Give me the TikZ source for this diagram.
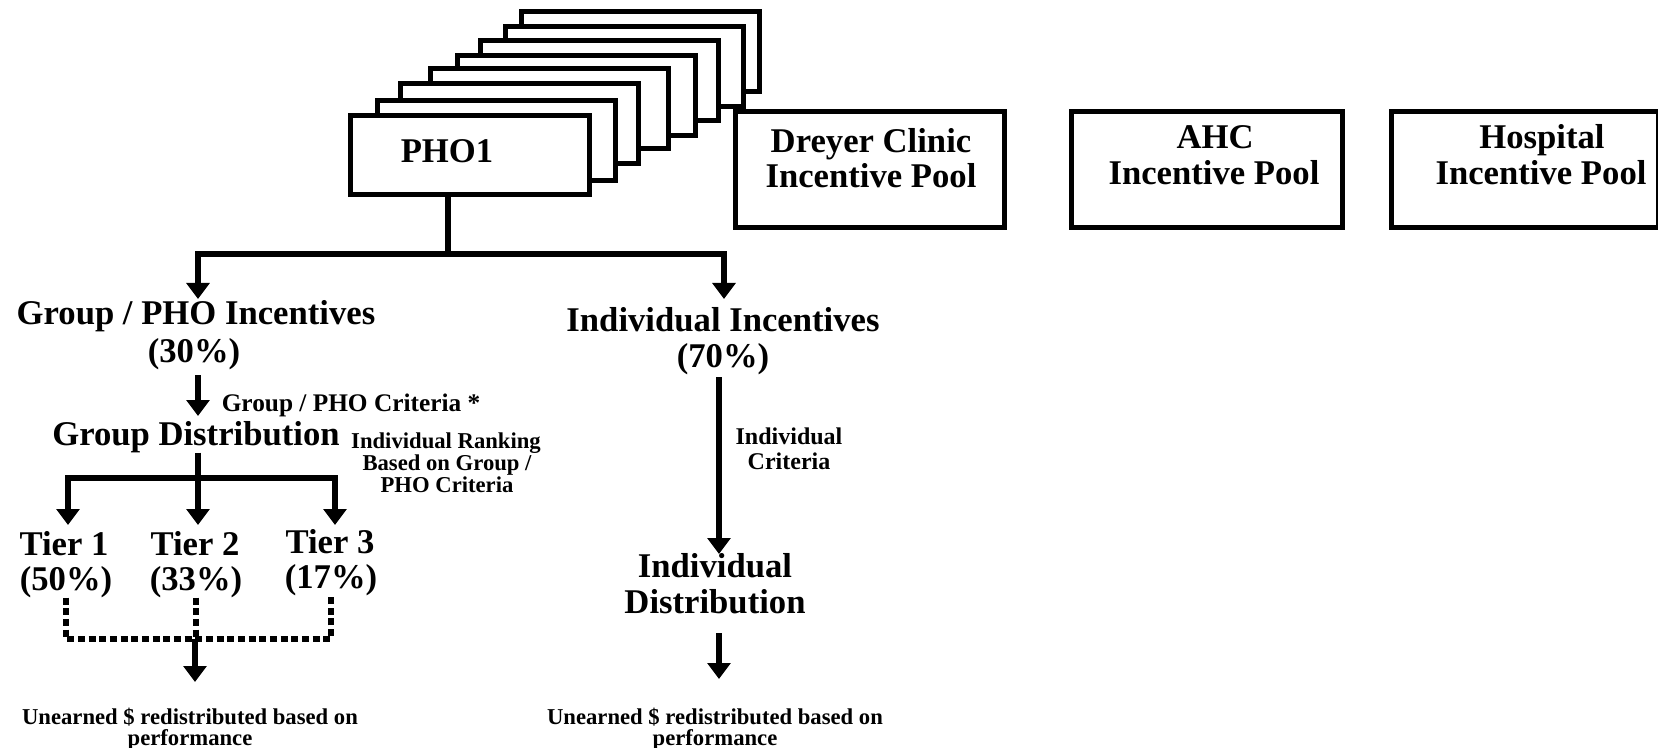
\documentclass[tikz,border=0pt]{standalone}
\usepackage{fontspec}
\setmainfont{Liberation Serif}
\usetikzlibrary{arrows.meta,calc}
\begin{document}
\begin{tikzpicture}[x=0.75pt,y=-0.75pt,
 box/.style={draw,fill=white,line width=3.4pt,minimum width=178.5pt,minimum height=60pt,anchor=north west,inner sep=0pt},
 big/.style={font=\fontsize{26}{30}\selectfont\bfseries,anchor=base,inner sep=0pt},
 mid/.style={font=\fontsize{19}{22}\selectfont\bfseries,anchor=base,inner sep=0pt},
 midb/.style={font=\fontsize{18}{22}\selectfont\bfseries,anchor=base,inner sep=0pt},
 sml/.style={font=\fontsize{17}{20}\selectfont\bfseries,anchor=base,inner sep=0pt},
 conn/.style={line width=4.7pt},
 arr/.style={conn,-{Triangle[width=17pt,length=12pt]}},
 dots/.style={line width=4.4pt,dash pattern=on 5.2pt off 2.8pt}
]
\useasboundingbox (0,0) rectangle (1658,748);
% stacked PHO boxes
\node[box] (s8) at (519,9) {};
\node[box] (s7) at (503,24) {};
\node[box] (s6) at (478,38) {};
\node[box] (s5) at (455,53) {};
\node[box] (s4) at (428,66) {};
\node[box] (s3) at (398,81) {};
\node[box] (s2) at (375,98) {};
\node[box,minimum width=179.25pt,minimum height=59.25pt] (pho1) at (348,113) {};
\node[big] (pho1t) at (447,163) {PHO1};
% pools
\node[box,minimum width=201.75pt,minimum height=87pt] (dreyer) at (733,109) {};
\node[big] (dreyer1) at (871,153) {Dreyer Clinic};
\node[big] (dreyer2) at (871,188) {Incentive Pool};
\node[box,minimum width=203.25pt,minimum height=87pt] (ahc) at (1069,109) {};
\node[big] (ahc1) at (1215,149) {AHC};
\node[big] (ahc2) at (1214,185) {Incentive Pool};
\node[box,minimum width=200.25pt,minimum height=87pt] (hosp) at (1389,109) {};
\node[big] (hosp1) at (1542,149) {Hospital};
\node[big] (hosp2) at (1541,185) {Incentive Pool};
% left column
\node[big] (gi1) at (196,325) {Group / PHO Incentives};
\node[big] (gi2) at (194,362) {(30\%)};
\node[mid] (gcrit) at (351,411) {Group / PHO Criteria *};
\node[big] (gd) at (196,445) {Group Distribution};
\node[sml] (ir1) at (446,448) {Individual Ranking};
\node[sml] (ir2) at (447,470) {Based on Group /};
\node[sml] (ir3) at (447,492) {PHO Criteria};
\node[big] (t1a) at (64,555) {Tier 1};
\node[big] (t1b) at (66,590) {(50\%)};
\node[big] (t2a) at (195,555) {Tier 2};
\node[big] (t2b) at (196,590) {(33\%)};
\node[big] (t3a) at (330,553) {Tier 3};
\node[big] (t3b) at (331,588) {(17\%)};
\node[sml] (u1a) at (190,724) {Unearned \$ redistributed based on};
\node[sml] (u1b) at (190,745) {performance};
% right column
\node[big] (ii1) at (723,331) {Individual Incentives};
\node[big] (ii2) at (723,367) {(70\%)};
\node[midb] (ic1) at (789,444) {Individual};
\node[midb] (ic2) at (789,469) {Criteria};
\node[big] (id1) at (715,577) {Individual};
\node[big] (id2) at (715,613) {Distribution};
\node[sml] (u2a) at (715,724) {Unearned \$ redistributed based on};
\node[sml] (u2b) at (715,745) {performance};
% connectors
\coordinate (jn) at (448,254);
\coordinate (gtip) at (198,299);
\coordinate (itip) at (724,299);
\draw[conn] (pho1.south -| jn) -- (jn);
\draw[arr] (jn) -| (gtip);
\draw[arr] (jn) -| (itip);
\coordinate (ga) at (198,375);
\coordinate (gb) at (198,416);
\draw[arr] (ga) -- (gb);
\coordinate (tj) at (198,478);
\coordinate (tt1) at (68,525);
\coordinate (tt2) at (198,525);
\coordinate (tt3) at (335,525);
\draw[conn] (gd.south -| tj) -- (tj);
\draw[arr] (tj) -| (tt1);
\draw[arr] (tj) -- (tt2);
\draw[arr] (tj) -| (tt3);
\coordinate (bj) at (195,639);
\coordinate (ub) at (195,682);
\draw[dots] (t1b.south) -- (t1b.south |- bj) -- (t3b.south |- bj) -- (t3b.south);
\draw[dots] (t2b.south) -- (t2b.south |- bj);
\draw[arr] (bj) -- (ub);
\coordinate (ia) at (719,377);
\coordinate (ib) at (719,554);
\draw[arr] (ia) -- (ib);
\coordinate (ic) at (719,633);
\coordinate (id) at (719,679);
\draw[arr] (ic) -- (id);
\end{tikzpicture}
\end{document}
